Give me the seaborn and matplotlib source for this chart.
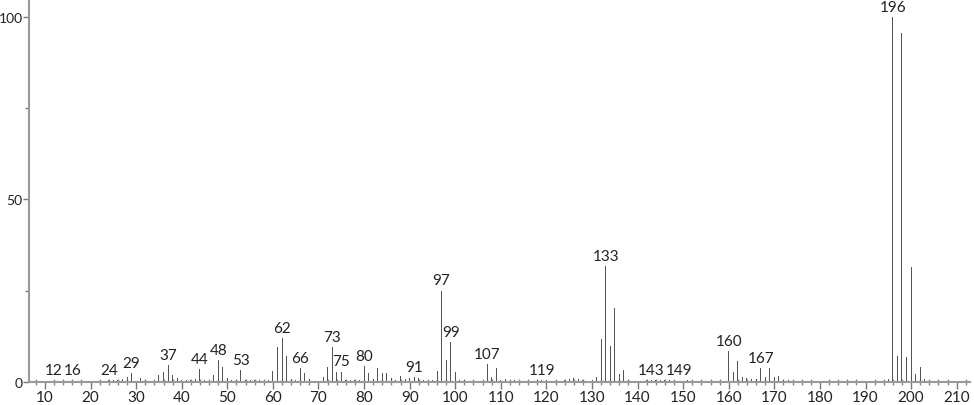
import numpy as np
import pandas as pd
import seaborn as sns
import matplotlib.pyplot as plt
from matplotlib.ticker import MultipleLocator

# m/z and relative intensity
mz = [12, 16, 24, 25, 26, 27, 28, 29, 31, 32, 35, 36, 37, 38, 39, 40, 41, 42, 43, 44,
      45, 46, 47, 48, 49, 50, 51, 52, 53, 54, 55, 56, 57, 59, 60, 61, 62, 63, 64, 65,
      66, 67, 68, 70, 71, 72, 73, 74, 75, 76, 77, 78, 79, 80, 81, 82, 83, 84, 85, 86,
      87, 88, 89, 90, 91, 92, 93, 95, 96, 97, 98, 99, 100, 101, 102, 106, 107, 108, 109, 110,
      111, 113, 117, 118, 119, 120, 121, 122, 123, 124, 125, 126, 127, 128, 130, 131, 132, 133, 134, 135,
      136, 137, 138, 141, 142, 143, 144, 145, 146, 147, 149, 151, 152, 154, 156, 159, 160, 161, 162, 163,
      164, 165, 166, 167, 168, 169, 170, 171, 172, 173, 194, 195, 196, 197, 198, 199, 200, 201, 202, 203]
intensity = [0.4, 0.4, 0.5, 0.6, 0.5, 0.8, 1.5, 2.4, 1.0, 0.5, 1.8, 2.8, 4.6, 1.8, 1.0, 0.5, 0.5, 0.5, 0.7, 3.5,
             0.5, 0.4, 1.8, 6.0, 4.1, 1.2, 0.5, 0.5, 3.3, 0.5, 0.5, 0.5, 0.5, 0.5, 3.0, 9.5, 12.0, 7.0, 0.8, 0.5,
             3.8, 2.5, 0.8, 0.3, 1.3, 4.0, 9.5, 2.8, 2.8, 0.5, 0.5, 0.5, 0.5, 4.3, 2.5, 0.8, 3.8, 2.5, 2.5, 1.2,
             0.5, 1.6, 0.8, 1.2, 1.3, 1.2, 0.5, 0.5, 3.0, 25.0, 6.0, 11.0, 2.8, 0.6, 0.5, 0.4, 4.9, 1.5, 3.7, 0.6,
             0.8, 0.5, 0.3, 0.5, 0.5, 0.5, 0.4, 0.4, 0.4, 0.6, 0.9, 1.2, 0.7, 0.6, 0.5, 1.5, 11.8, 31.7, 9.8, 20.3,
             2.2, 3.4, 0.5, 0.4, 0.5, 0.5, 0.5, 0.6, 0.6, 0.5, 0.4, 0.5, 0.4, 0.4, 0.3, 0.3, 8.5, 2.7, 5.7, 1.5,
             1.2, 0.9, 0.8, 3.8, 1.5, 3.8, 1.4, 1.7, 0.5, 0.6, 0.4, 0.8, 100.0, 7.2, 95.6, 6.8, 31.5, 2.3, 4.0, 0.7]

# peaks that carry a m/z label
labelled = [12, 16, 24, 29, 37, 44, 48, 53, 62, 66, 73, 75, 80, 91, 97, 99, 107, 119,
            133, 143, 149, 160, 167, 196]

df = pd.DataFrame({"mz": mz, "intensity": intensity})

sns.set_style("white")
plt.rcParams["font.family"] = ["Lato", "DejaVu Sans"]

fig = plt.figure(figsize=(9.74, 4.06), dpi=100)
ax = fig.add_axes([0.0298, 0.0567, 0.966, 0.943])

sns.barplot(data=df, x="mz", y="intensity", native_scale=True, width=0.22,
            color="#555555", saturation=1, linewidth=0, errorbar=None, ax=ax)

lookup = dict(zip(mz, intensity))
for m in labelled:
    ax.text(m, lookup[m] + 0.9, str(m), ha="center", va="bottom",
            fontsize=11, color="#222222")

ax.set_xlim(6.5, 212.9)
ax.set_ylim(0, 104.9)
ax.set_xlabel("")
ax.set_ylabel("")

ax.xaxis.set_major_locator(MultipleLocator(10))
ax.xaxis.set_minor_locator(MultipleLocator(2))
ax.yaxis.set_major_locator(MultipleLocator(50))
ax.yaxis.set_minor_locator(MultipleLocator(25))

ax.tick_params(axis="x", which="major", direction="out", length=5, width=1,
               color="#777777", labelsize=11, labelcolor="#222222", pad=1)
ax.tick_params(axis="x", which="minor", direction="inout", length=4, width=1,
               color="#888888")
ax.tick_params(axis="y", which="major", direction="out", length=4, width=1,
               color="#777777", labelsize=10, labelcolor="#222222", pad=0.5)
ax.tick_params(axis="y", which="minor", direction="out", length=3, width=1,
               color="#777777")
ax.tick_params(bottom=True, left=True, which="both")

for side in ["top", "right"]:
    ax.spines[side].set_visible(False)
for side in ["left", "bottom"]:
    ax.spines[side].set_color("#999999")
    ax.spines[side].set_linewidth(1.5)

plt.savefig("out.png", dpi=100)
